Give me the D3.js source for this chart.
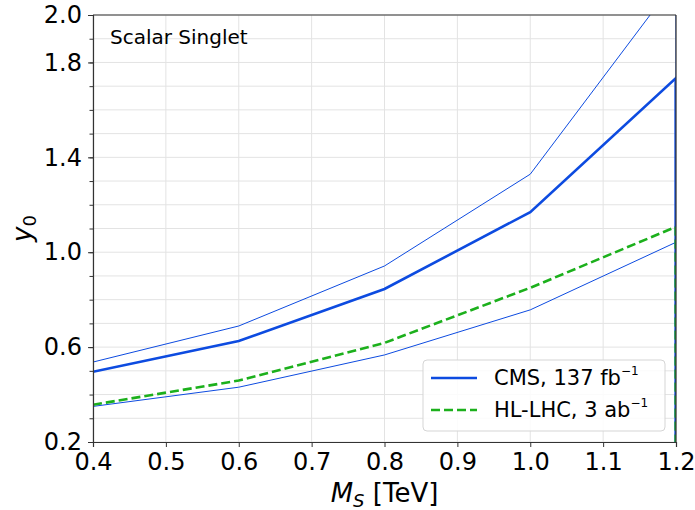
<!DOCTYPE html>
<html>
<head>
<meta charset="utf-8">
<script src="https://cdn.jsdelivr.net/npm/d3@7"></script>
<style>
  body { margin: 0; background: #fff; }
  svg { font-family: "DejaVu Sans", sans-serif; }
</style>
</head>
<body>
<div id="chart"></div>
<script>
// data
const masses = [0.4, 0.6, 0.8, 1.0, 1.2, 1.2];
const cmsCentral = [0.496, 0.626, 0.845, 1.169, 1.734, 0.0];
const cmsUpper = [0.537, 0.689, 0.942, 1.329, 2.145, 0.0];
const cmsLower = [0.350, 0.431, 0.567, 0.757, 1.042, 0.0];
const hllhc = [0.357, 0.459, 0.618, 0.850, 1.107, 0.0];

const xTicks = [0.4, 0.5, 0.6, 0.7, 0.8, 0.9, 1.0, 1.1, 1.2];
const yTicks = [0.2, 0.6, 1.0, 1.4, 1.8, 2.0];
const yMinor = d3.range(2, 21).map(d => d / 10);

const width = 695, height = 510;
const margin = {top: 15, right: 19, bottom: 68, left: 93};

const blue = "#0d4be0";
const green = "#1cb01c";

const svg = d3.select("#chart").append("svg")
  .attr("width", width)
  .attr("height", height);

// scales
const x = d3.scaleLinear().domain([0.4, 1.2]).range([margin.left, width - margin.right]);
const y = d3.scaleLinear().domain([0.2, 2.0]).range([height - margin.bottom, margin.top]);

// grid lines
svg.append("g")
  .selectAll("line.gx")
  .data(xTicks).enter()
  .append("line")
  .attr("x1", d => x(d)).attr("x2", d => x(d))
  .attr("y1", y(0.2)).attr("y2", y(2.0))
  .attr("stroke", "#e3e3e3").attr("stroke-width", 1);

svg.append("g")
  .selectAll("line.gy")
  .data(yMinor).enter()
  .append("line")
  .attr("x1", x(0.4)).attr("x2", x(1.2))
  .attr("y1", d => y(d)).attr("y2", d => y(d))
  .attr("stroke", "#e3e3e3").attr("stroke-width", 1);

// lines
svg.append("clipPath").attr("id", "clip")
  .append("rect")
  .attr("x", x(0.4)).attr("y", y(2.0))
  .attr("width", x(1.2) - x(0.4)).attr("height", y(0.2) - y(2.0));

const line = d3.line().x(d => x(d[0])).y(d => y(d[1]));
const plot = svg.append("g").attr("clip-path", "url(#clip)");

function addLine(vals, color, w, dash) {
  plot.append("path")
    .datum(masses.map((m, i) => [m, vals[i]]))
    .attr("d", line)
    .attr("fill", "none")
    .attr("stroke", color)
    .attr("stroke-width", w)
    .attr("stroke-dasharray", dash || null);
}

addLine(cmsUpper, blue, 1);
addLine(cmsLower, blue, 1);
addLine(cmsCentral, blue, 2.6);
addLine(hllhc, green, 2.6, "9,4");

// axes
const xAxis = svg.append("g")
  .attr("transform", "translate(0," + y(0.2) + ")")
  .call(d3.axisBottom(x).tickValues(xTicks).tickFormat(d3.format(".1f")).tickSize(5).tickPadding(6));

const yAxisMinor = svg.append("g")
  .attr("transform", "translate(" + x(0.4) + ",0)")
  .call(d3.axisLeft(y).tickValues(yMinor).tickFormat("").tickSize(3.5));
yAxisMinor.select(".domain").remove();

const yAxis = svg.append("g")
  .attr("transform", "translate(" + x(0.4) + ",0)")
  .call(d3.axisLeft(y).tickValues(yTicks).tickFormat(d3.format(".1f")).tickSize(5).tickPadding(6));

svg.selectAll(".tick text")
  .attr("font-size", 24)
  .attr("font-family", "DejaVu Sans")
  .attr("fill", "#000");
svg.selectAll(".tick line").attr("stroke", "#333");
svg.selectAll(".domain").attr("stroke", "#333").attr("stroke-width", 1.2);

// top and right spines
svg.append("line")
  .attr("x1", x(0.4)).attr("x2", x(1.2))
  .attr("y1", y(2.0)).attr("y2", y(2.0))
  .attr("stroke", "#333").attr("stroke-width", 1.2);
svg.append("line")
  .attr("x1", x(1.2)).attr("x2", x(1.2))
  .attr("y1", y(2.0)).attr("y2", y(0.2))
  .attr("stroke", "#333").attr("stroke-width", 1.2);

// the right-edge drop drawn again on top of the spine
plot.append("line")
  .attr("x1", x(1.2) - 0.5).attr("x2", x(1.2) - 0.5)
  .attr("y1", y(cmsCentral[4])).attr("y2", y(0.2))
  .attr("stroke", blue).attr("stroke-width", 2);
plot.append("line")
  .attr("x1", x(1.2) - 0.5).attr("x2", x(1.2) - 0.5)
  .attr("y1", y(hllhc[4])).attr("y2", y(0.2))
  .attr("stroke", green).attr("stroke-width", 2)
  .attr("stroke-dasharray", "9,4");

// axis labels
const xl = svg.append("text")
  .attr("x", (x(0.4) + x(1.2)) / 2)
  .attr("y", 502)
  .attr("text-anchor", "middle")
  .attr("font-size", 26);
xl.append("tspan").attr("font-style", "italic").text("M");
xl.append("tspan").attr("font-style", "italic").attr("font-size", 18).attr("dy", 5).text("S");
xl.append("tspan").attr("dy", -5).text(" [TeV]");

const yl = svg.append("text")
  .attr("transform", "translate(31," + ((y(0.2) + y(2.0)) / 2) + ") rotate(-90)")
  .attr("text-anchor", "middle")
  .attr("font-size", 26);
yl.append("tspan").attr("font-style", "italic").text("y");
yl.append("tspan").attr("font-size", 18).attr("dy", 5).text("0");

// annotation
svg.append("text")
  .attr("x", 110).attr("y", 44)
  .attr("font-size", 20)
  .text("Scalar Singlet");

// legend
const legend = svg.append("g").attr("transform", "translate(423,360)");
legend.append("rect")
  .attr("width", 242).attr("height", 71)
  .attr("rx", 4)
  .attr("fill", "#fff").attr("fill-opacity", 0.85)
  .attr("stroke", "#d5d5d5");

const legendItems = [
  {label: "CMS, 137 fb", sup: "\u22121", color: blue, dash: null},
  {label: "HL-LHC, 3 ab", sup: "\u22121", color: green, dash: "9,4"}
];

legendItems.forEach((it, i) => {
  const yy = 18 + i * 32;
  legend.append("line")
    .attr("x1", 8).attr("x2", 54)
    .attr("y1", yy).attr("y2", yy)
    .attr("stroke", it.color).attr("stroke-width", 2.4)
    .attr("stroke-dasharray", it.dash);
  const t = legend.append("text")
    .attr("x", 71).attr("y", yy + 7)
    .attr("font-size", 21);
  t.append("tspan").text(it.label);
  t.append("tspan").attr("font-size", 12).attr("dy", -10).text(it.sup);
});
</script>
</body>
</html>
